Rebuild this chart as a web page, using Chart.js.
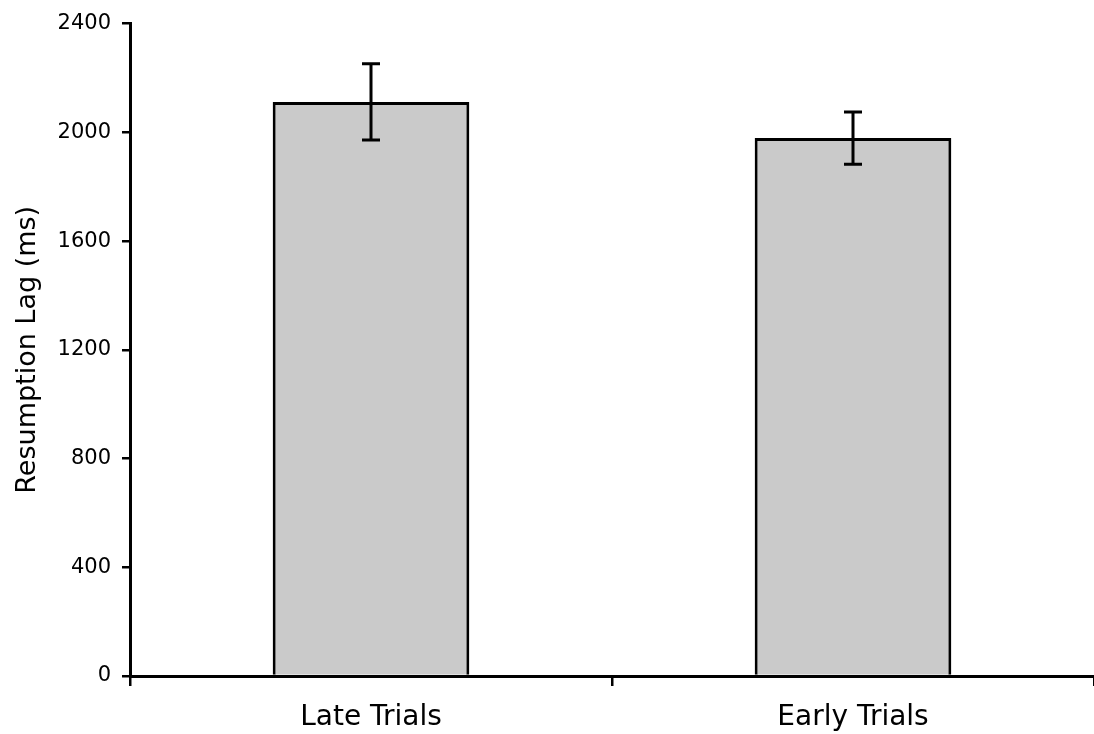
<!DOCTYPE html>
<html>
<head>
<meta charset="utf-8">
<script src="https://cdn.jsdelivr.net/npm/chart.js@4.4.1/dist/chart.umd.min.js"></script>
<style>
  html, body { margin: 0; padding: 0; background: #ffffff; }
  #wrap { width: 1094px; height: 734px; }
</style>
</head>
<body>
<div id="wrap"><canvas id="c" width="1094" height="734"></canvas></div>
<script>
// Resumption lag by trial group (mean, with error half-widths)
const categories = ['Late Trials', 'Early Trials'];
const meanLag = [2112, 1979];
const errorLag = [140, 96];
const yTicks = [0, 400, 800, 1200, 1600, 2000, 2400];

const FONT = '"DejaVu Sans", Verdana, sans-serif';

// Draws vertical error bars with caps centred on each bar
const errorBars = {
  id: 'errorBars',
  afterDatasetsDraw(chart) {
    const ctx = chart.ctx;
    const meta = chart.getDatasetMeta(0);
    const y = chart.scales.y;
    ctx.save();
    ctx.strokeStyle = '#000';
    ctx.lineWidth = 3;
    meta.data.forEach((bar, i) => {
      const x = bar.x;
      const top = y.getPixelForValue(meanLag[i] + errorLag[i]);
      const bot = y.getPixelForValue(meanLag[i] - errorLag[i]);
      ctx.beginPath();
      ctx.moveTo(x, top); ctx.lineTo(x, bot);
      ctx.moveTo(x - 9, top); ctx.lineTo(x + 9, top);
      ctx.moveTo(x - 9, bot); ctx.lineTo(x + 9, bot);
      ctx.stroke();
    });
    ctx.restore();
  }
};

new Chart(document.getElementById('c'), {
  type: 'bar',
  data: {
    labels: categories,
    datasets: [{
      data: meanLag,
      backgroundColor: '#cacaca',
      borderColor: '#000',
      borderWidth: 3,
      borderSkipped: 'bottom',
      categoryPercentage: 1.0,
      barPercentage: 0.408
    }]
  },
  options: {
    responsive: false,
    animation: false,
    layout: { padding: { top: 22, right: -2, left: 0, bottom: 0 } },
    plugins: {
      legend: { display: false },
      tooltip: { enabled: false }
    },
    scales: {
      x: {
        afterFit(scale) { scale.height = 58; },
        grid: {
          offset: true,
          drawOnChartArea: false,
          drawTicks: true,
          tickLength: 10,
          color: '#000',
          lineWidth: 2.5
        },
        border: { display: true, color: '#000', width: 3 },
        ticks: {
          color: '#000',
          font: { family: FONT, size: 28 },
          padding: 15
        }
      },
      y: {
        min: 0,
        max: 2400,
        afterFit(scale) { scale.width = 130; },
        afterBuildTicks(scale) {
          scale.ticks = yTicks.map(v => ({ value: v }));
        },
        grid: {
          drawOnChartArea: false,
          drawTicks: true,
          tickLength: 8,
          color: '#000',
          lineWidth: 2.5
        },
        border: { display: true, color: '#000', width: 3 },
        ticks: {
          color: '#000',
          font: { family: FONT, size: 21 },
          padding: 11,
          callback: (v) => String(v)
        },
        title: {
          display: true,
          text: 'Resumption Lag (ms)',
          color: '#000',
          font: { family: FONT, size: 27 },
          padding: { top: 12, bottom: 0 }
        }
      }
    }
  },
  plugins: [errorBars]
});
</script>
</body>
</html>
